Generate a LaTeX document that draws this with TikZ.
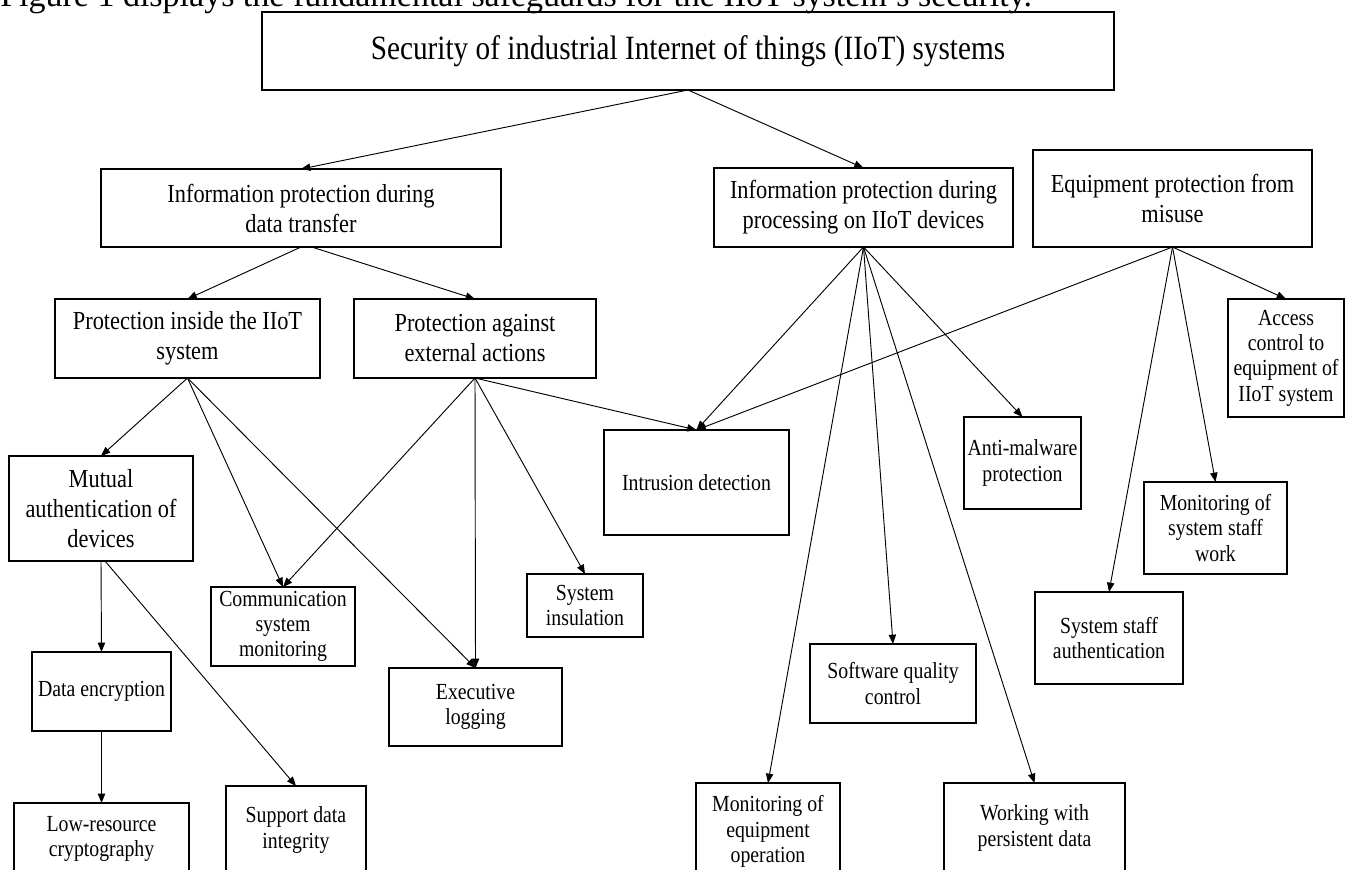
\documentclass[tikz,border=0pt]{standalone}
\usepackage{fontspec}
\setmainfont{Liberation Serif}
\newfontfamily\boxfont[FakeStretch=0.86]{Liberation Serif}
\usetikzlibrary{arrows.meta}
\begin{document}
\begin{tikzpicture}[x=0.75pt,y=-0.75pt,
  box/.style={draw, line width=0.9pt, inner sep=0pt, outer sep=0pt, align=center,
    font=\boxfont\fontsize{19.5}{22.5}\selectfont},
  sbox/.style={box, font=\boxfont\fontsize{17.25}{19}\selectfont},
  span/.style n args={4}{at={({(#1+#3)/2},{(#2+#4)/2})},
    minimum width={(#3-#1)*0.75pt}, minimum height={(#4-#2)*0.75pt}},
  arr/.style={-{Triangle[length=7pt,width=5.5pt]}, line width=0.7pt},
  captext/.style={inner sep=0pt, anchor=base west, font=\fontsize{25.5}{30}\selectfont}]
\useasboundingbox (0,0) rectangle (1345,870);
\node[captext] (caption) at (0,7) {Figure 1 displays the fundamental safeguards for the IIoT system's security.};
% level 1
\node[box, span={262}{12}{1114}{90}, font=\boxfont\fontsize{25.5}{30}\selectfont] (nTop) {Security of industrial Internet of things (IIoT) systems};
% level 2
\node[box, span={101}{169}{501}{247}] (infodata) {Information protection during\\data transfer};
\node[box, span={714}{168}{1013}{247}] (proc) {Information protection during\\processing on IIoT devices};
\node[box, span={1033}{150}{1312}{247}] (equip) {Equipment protection from\\misuse};
% level 3
\node[box, span={55}{299}{320}{378}] (pin) {Protection inside the IIoT\\system};
\node[box, span={354}{299}{596}{378}] (pag) {Protection against\\external actions};
\node[box, span={9}{456}{193}{561}] (mutual) {Mutual\\authentication of\\devices};
% small boxes
\node[sbox, span={211}{587}{355}{666}] (comm) {Communication\\system\\monitoring};
\node[sbox, span={527}{574}{643}{637}] (insul) {System\\insulation};
\node[sbox, span={389}{668}{562}{746}] (exec) {Executive\\logging};
\node[sbox, span={604}{430}{789}{535}] (intr) {Intrusion detection};
\node[sbox, span={964}{417}{1081}{509}] (anti) {Anti-malware\\protection};
\node[sbox, span={1228}{299}{1344}{417}] (access) {Access\\control to\\equipment of\\IIoT system};
\node[sbox, span={1144}{482}{1287}{574}] (monst) {Monitoring of\\system staff\\work};
\node[sbox, span={1035}{592}{1183}{684}] (sauth) {System staff\\authentication};
\node[sbox, span={810}{644}{976}{723}] (soft) {Software quality\\control};
\node[sbox, span={32}{652}{171}{731}] (dataenc) {Data encryption};
\node[sbox, span={14}{803}{189}{875}] (lowres) {Low-resource\\cryptography};
\node[sbox, span={226}{786}{366}{874}] (support) {Support data\\integrity};
\node[sbox, span={696}{783}{840}{880}] (moneq) {Monitoring of\\equipment\\operation};
\node[sbox, span={944}{783}{1125}{873}] (persist) {Working with\\persistent data};
% connectors
\draw[arr] (nTop.south) -- (infodata.north);
\draw[arr] (nTop.south) -- (proc.north);
\draw[arr] (infodata.south) -- (pin.north);
\draw[arr] ([xshift=8pt]infodata.south) -- (pag.north);
\draw[arr] (pin.south) -- (mutual.north);
\draw[arr] (pin.south) -- (comm.north);
\draw[arr] (pin.south) -- (exec.north);
\draw[arr] (pag.south) -- (comm.north);
\draw[arr] (pag.south) -- (exec.north);
\draw[arr] (pag.south) -- (insul.north);
\draw[arr] (pag.south) -- (intr.north);
\draw[arr] (proc.south) -- (intr.north);
\draw[arr] (proc.south) -- (moneq.north);
\draw[arr] (proc.south) -- (soft.north);
\draw[arr] (proc.south) -- (persist.north);
\draw[arr] (proc.south) -- (anti.north);
\draw[arr] (equip.south) -- (intr.north);
\draw[arr] (equip.south) -- (sauth.north);
\draw[arr] (equip.south) -- (monst.north);
\draw[arr] (equip.south) -- (access.north);
\draw[arr] (mutual.south) -- (dataenc.north);
\draw[arr] ([xshift=3pt]mutual.south) -- (support.north);
\draw[arr] (dataenc.south) -- (lowres.north);
\end{tikzpicture}
\end{document}
